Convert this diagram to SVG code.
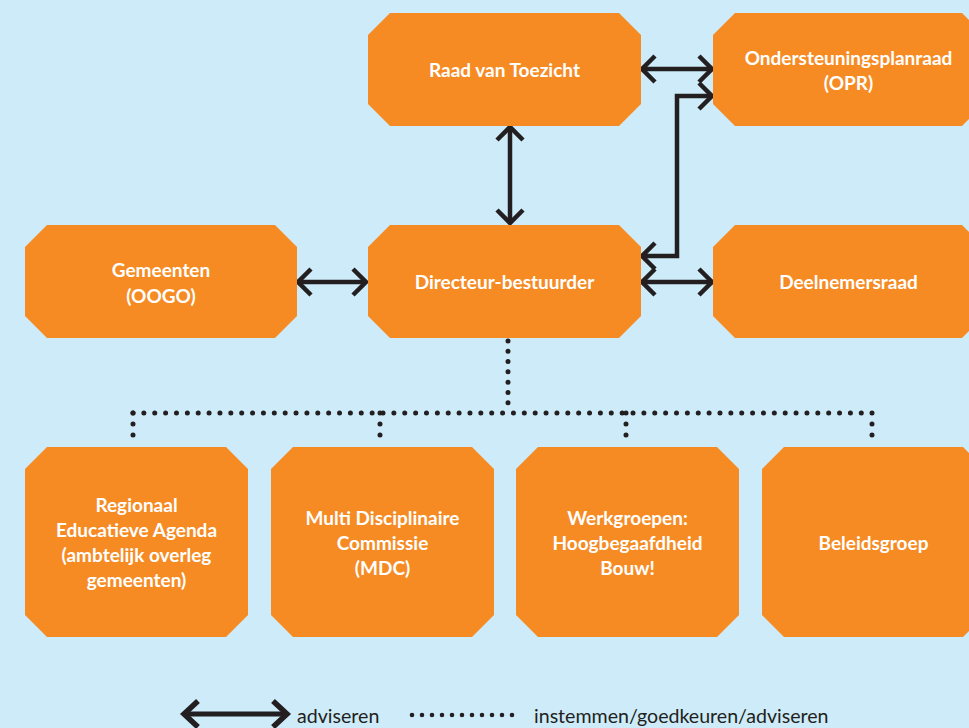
<svg xmlns="http://www.w3.org/2000/svg" width="969" height="728" viewBox="0 0 969 728">
<defs>
<style>
.box{fill:#F68B24;}
.t{font-family:Lato,"Liberation Sans",sans-serif;font-weight:bold;font-size:19px;fill:#ffffff;text-anchor:middle;}
.lg{font-family:Lato,"Liberation Sans",sans-serif;font-size:19.6px;fill:#231F20;}
.arr{fill:none;stroke:#231F20;stroke-width:4.5;marker-start:url(#ah);marker-end:url(#ah);}
.dot{fill:none;stroke:#231F20;stroke-width:5;stroke-linecap:round;}
</style>
<marker id="ah" viewBox="-20 -16 25 32" refX="0" refY="0" markerWidth="25" markerHeight="32" markerUnits="userSpaceOnUse" orient="auto-start-reverse">
<path d="M-13,-13 L0,0 L-13,13" fill="none" stroke="#231F20" stroke-width="4.5"/>
</marker>
<marker id="ahL" viewBox="-20 -17 25 34" refX="0" refY="0" markerWidth="25" markerHeight="34" markerUnits="userSpaceOnUse" orient="auto-start-reverse">
<path d="M-14,-13 L0,0 L-14,13" fill="none" stroke="#231F20" stroke-width="5.5"/>
</marker>
</defs>
<rect width="969" height="728" fill="#CDEBF8"/>

<g id="connectors">
<path class="arr" d="M510,127 V223"/>
<path class="arr" d="M642,69 H712"/>
<path class="arr" d="M642,256 H677 V96 H712"/>
<path class="arr" d="M642,282 H712"/>
<path class="arr" d="M298,282 H366"/>
<path class="dot" stroke-dasharray="0 10.29" d="M508,341 V413"/>
<path class="dot" stroke-dasharray="0 10.87" d="M133,413 H872"/>
<path class="dot" stroke-dasharray="0 11" d="M133,413 V446 M380,413 V446 M626,413 V446 M872,413 V446"/>
</g>

<g id="raad">
<polygon class="box" points="390,13 619,13 641,35 641,104 619,126 390,126 368,104 368,35"/>
<text class="t" x="504.5" y="77">Raad van Toezicht</text>
</g>
<g id="opr">
<polygon class="box" points="735,13 962,13 984,35 984,104 962,126 735,126 713,104 713,35"/>
<text class="t" x="848.5" y="65">Ondersteuningsplanraad</text>
<text class="t" x="848.5" y="90">(OPR)</text>
</g>
<g id="gemeenten">
<polygon class="box" points="47,225 275,225 297,247 297,316 275,338 47,338 25,316 25,247"/>
<text class="t" x="161" y="277">Gemeenten</text>
<text class="t" x="161" y="303">(OOGO)</text>
</g>
<g id="directeur">
<polygon class="box" points="390,225 619,225 641,247 641,316 619,338 390,338 368,316 368,247"/>
<text class="t" x="504.5" y="289">Directeur-bestuurder</text>
</g>
<g id="deelnemersraad">
<polygon class="box" points="735,225 962,225 984,247 984,316 962,338 735,338 713,316 713,247"/>
<text class="t" x="848.5" y="289">Deelnemersraad</text>
</g>
<g id="rea">
<polygon class="box" points="47,447 226,447 248,469 248,615 226,637 47,637 25,615 25,469"/>
<text class="t" x="136.5" y="512">Regionaal</text>
<text class="t" x="136.5" y="537">Educatieve Agenda</text>
<text class="t" x="136.5" y="562">(ambtelijk overleg</text>
<text class="t" x="136.5" y="587">gemeenten)</text>
</g>
<g id="mdc">
<polygon class="box" points="293,447 472,447 494,469 494,615 472,637 293,637 271,615 271,469"/>
<text class="t" x="382.5" y="525">Multi Disciplinaire</text>
<text class="t" x="382.5" y="550">Commissie</text>
<text class="t" x="382.5" y="575">(MDC)</text>
</g>
<g id="werkgroepen">
<polygon class="box" points="538,447 717,447 739,469 739,615 717,637 538,637 516,615 516,469"/>
<text class="t" x="627.5" y="525">Werkgroepen:</text>
<text class="t" x="627.5" y="550">Hoogbegaafdheid</text>
<text class="t" x="627.5" y="575">Bouw!</text>
</g>
<g id="beleidsgroep">
<polygon class="box" points="784,447 963,447 985,469 985,615 963,637 784,637 762,615 762,469"/>
<text class="t" x="873.5" y="550">Beleidsgroep</text>
</g>

<g id="legend">
<path d="M184,714 H287" fill="none" stroke="#231F20" stroke-width="5" marker-start="url(#ahL)" marker-end="url(#ahL)"/>
<text class="lg" x="297" y="723">adviseren</text>
<path d="M412,715 H522" fill="none" stroke="#231F20" stroke-width="4.6" stroke-linecap="round" stroke-dasharray="0 10"/>
<text class="lg" x="534" y="723">instemmen/goedkeuren/adviseren</text>
</g>
</svg>
